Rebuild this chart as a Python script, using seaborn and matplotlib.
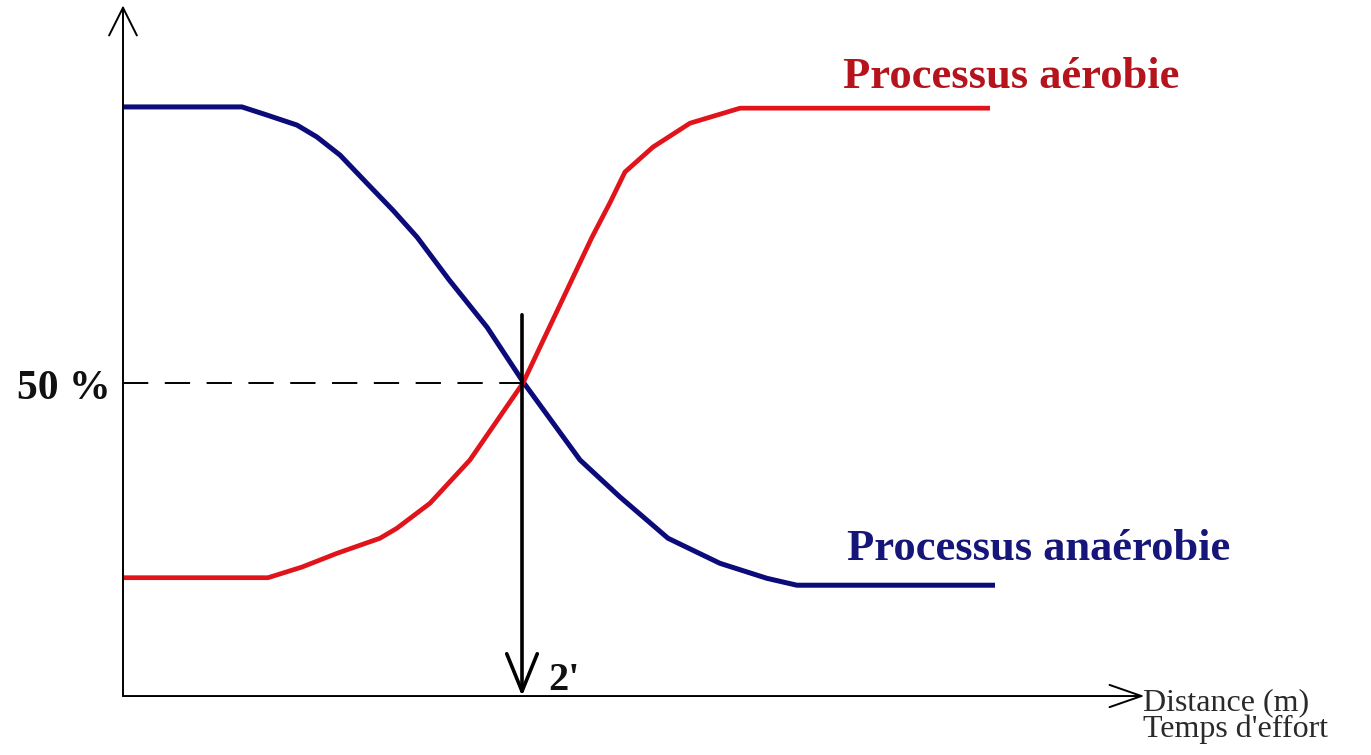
import numpy as np
import pandas as pd
import matplotlib
matplotlib.use("Agg")
import matplotlib.pyplot as plt
import seaborn as sns

# ---- data (x: effort time in minutes, y: share of energy in %) ----
anaer_x = [0.0, 0.596, 0.722, 0.872, 0.972, 1.088, 1.223, 1.353, 1.474, 1.634, 1.825, 2.005,
           2.291, 2.491, 2.732, 2.992, 3.228, 3.378, 4.371]
anaer_y = [94.1, 94.1, 92.8, 91.2, 89.3, 86.4, 81.9, 77.6, 73.3, 66.5, 58.9, 50.2,
           37.7, 31.8, 25.2, 21.2, 18.8, 17.7, 17.7]
aer_x = [0.0, 0.727, 0.897, 1.073, 1.288, 1.373, 1.539, 1.739, 2.005, 2.351, 2.441, 2.516,
         2.657, 2.842, 3.093, 4.346]
aer_y = [18.9, 18.9, 20.6, 22.8, 25.2, 26.8, 30.8, 37.7, 50.0, 73.3, 78.8, 83.7,
         87.7, 91.5, 93.9, 93.9]
cross_x = 2.0
cross_y = 50.0
label_aer = "Processus aérobie"
label_anaer = "Processus anaérobie"
label_50 = "50 %"
label_2 = "2'"
xlabel1 = "Distance (m)"
xlabel2 = "Temps d'effort"

sns.set_style("white")
plt.rcParams['font.family'] = ['Liberation Serif', 'DejaVu Serif']

fig = plt.figure(figsize=(13.71, 7.55), dpi=100)
ax = fig.add_axes([0, 0, 1, 1])

BLUE = '#0b0b7a'
RED = '#e0141a'

df_an = pd.DataFrame({'x': anaer_x, 'y': anaer_y})
df_ae = pd.DataFrame({'x': aer_x, 'y': aer_y})
sns.lineplot(data=df_an, x='x', y='y', ax=ax, color=BLUE, lw=3.6, sort=False,
             solid_joinstyle='round', solid_capstyle='butt')
sns.lineplot(data=df_ae, x='x', y='y', ax=ax, color=RED, lw=3.4, sort=False,
             solid_joinstyle='round', solid_capstyle='butt')
ax.set_xlim(-0.6165, 6.2556)
ax.set_ylim(-9.42, 111.18)
ax.axis('off')

# axes with arrows
ax.annotate('', xy=(0, 110.3), xytext=(0, 0),
            arrowprops=dict(arrowstyle='->,head_length=20,head_width=10', lw=1.4,
                            color='black', shrinkA=0, shrinkB=0, mutation_scale=1))
ax.annotate('', xy=(5.12, 0), xytext=(0, 0),
            arrowprops=dict(arrowstyle='->,head_length=23,head_width=8', lw=1.4,
                            color='black', shrinkA=0, shrinkB=0, mutation_scale=1))

# dashed 50% line
ax.plot([0, cross_x], [cross_y, cross_y], color='black', lw=1.4,
        linestyle=(0, (13, 8.5)))

# vertical arrow at 2'
ax.annotate('', xy=(cross_x, 0), xytext=(cross_x, 60.9),
            arrowprops=dict(arrowstyle='->,head_length=27,head_width=11', lw=2.6,
                            color='black', shrinkA=0, shrinkB=0, mutation_scale=1))

# texts
ax.text(-0.06, 47.4, label_50, ha='right', va='baseline', fontsize=30,
        fontweight='bold', color='#111111')
ax.text(2.13, 1.0, label_2, ha='left', va='baseline', fontsize=29,
        fontweight='bold', color='#111111')
ax.text(3.609, 97.1, label_aer, ha='left', va='baseline', fontsize=32,
        fontweight='bold', color='#b5141c')
ax.text(3.63, 21.7, label_anaer, ha='left', va='baseline', fontsize=32,
        fontweight='bold', color='#15157a')
ax.text(5.115, -2.24, xlabel1, ha='left', va='baseline', fontsize=23, color='#2a2a2a')
ax.text(5.115, -6.55, xlabel2, ha='left', va='baseline', fontsize=23, color='#2a2a2a')

fig.savefig('out.png', dpi=100)
